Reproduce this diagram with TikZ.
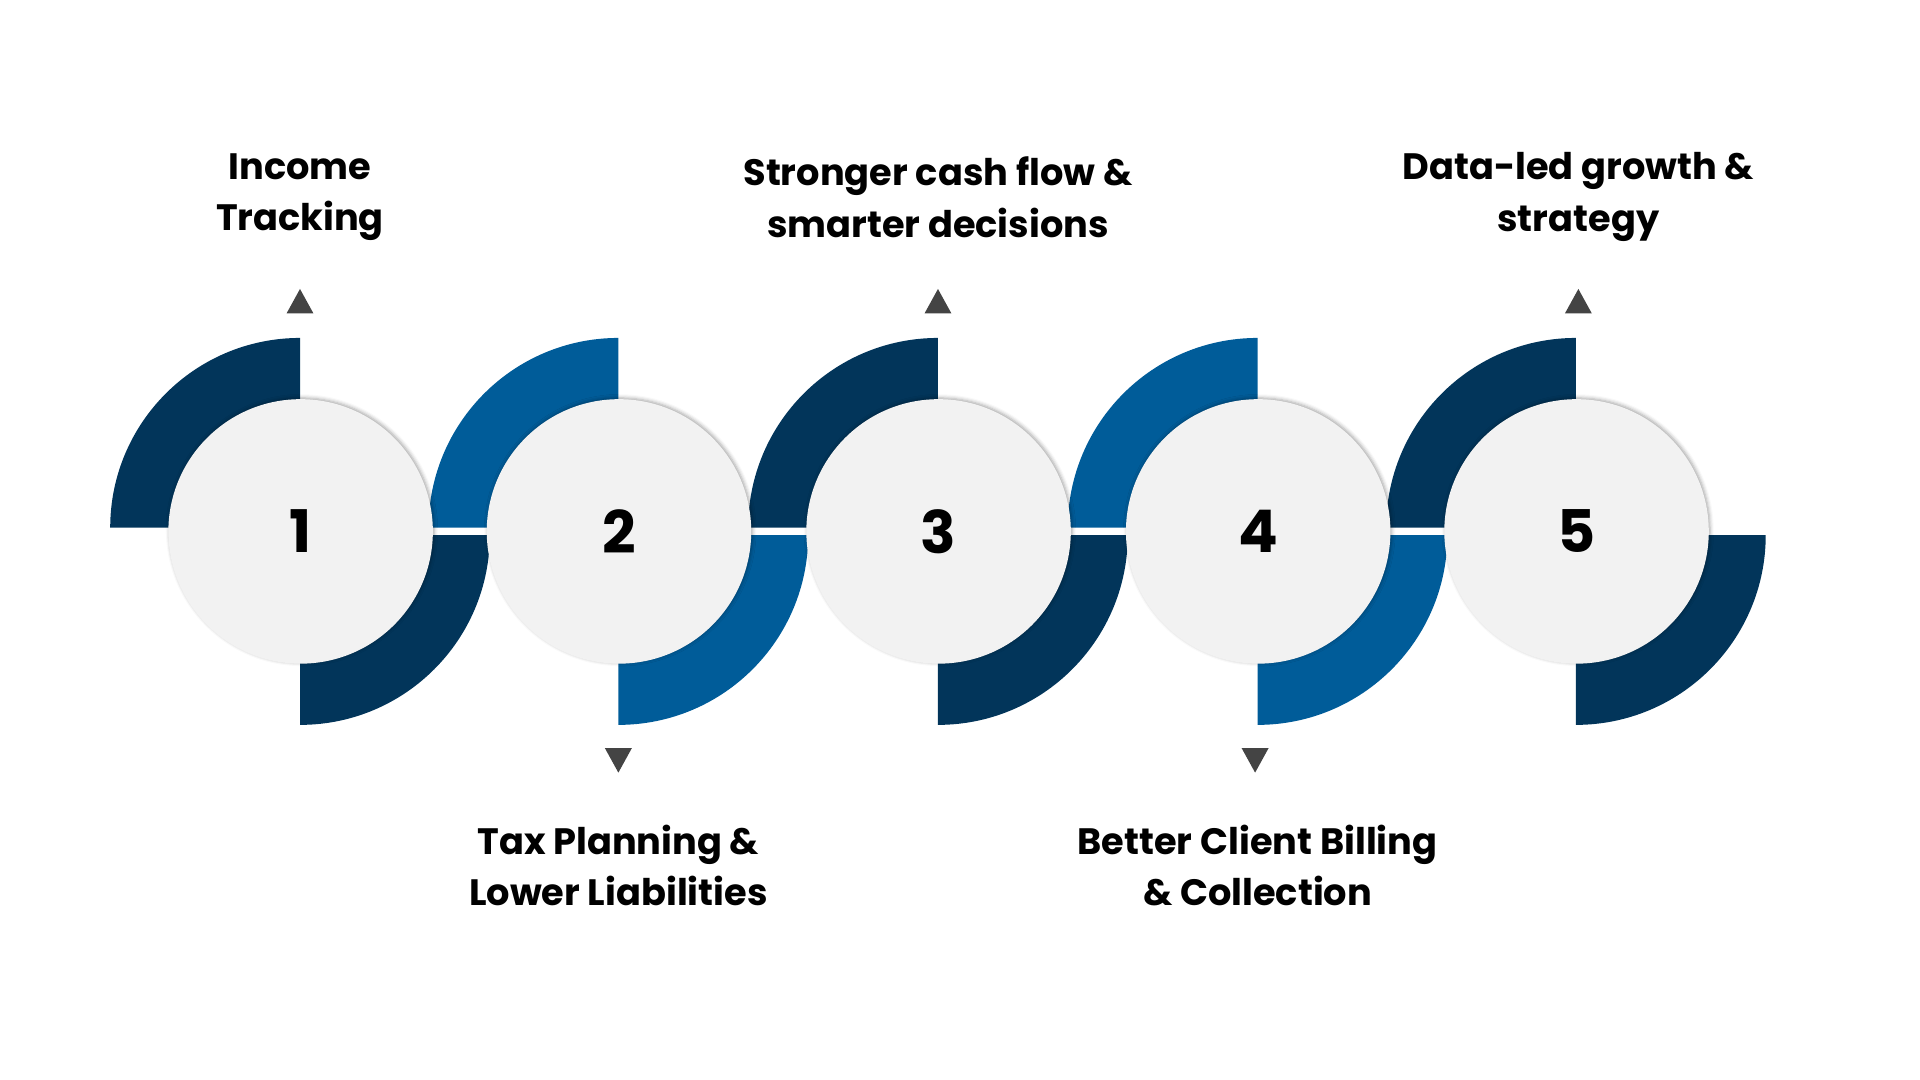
\documentclass[tikz,border=0pt]{standalone}
\usepackage{fontspec}
\setmainfont{Poppins}
\usetikzlibrary{shadows.blur}
\definecolor{dk}{HTML}{02355A}
\definecolor{bl}{HTML}{005C99}
\definecolor{cg}{HTML}{F2F2F2}
\definecolor{tri}{HTML}{444444}
\tikzset{
  num/.style={circle,fill=cg,minimum size=216pt,inner sep=0pt,font=\fontsize{48}{55}\selectfont\bfseries,blur shadow={shadow xshift=1pt,shadow yshift=1pt,shadow blur radius=3pt,shadow opacity=35}},
  lbl/.style={align=center,font=\fontsize{30}{42}\selectfont\bfseries,text=black},
  tri/.style={fill=tri}
}
\begin{document}
\begin{tikzpicture}[x=1pt,y=1pt]
\useasboundingbox (0,0) rectangle (1568,882);
\foreach \i/\cx/\col in {1/245/dk,2/505/bl,3/766/dk,4/1027/bl,5/1287/dk}{
  \fill[\col] (\cx,606) arc (90:180:155) -- (\cx-100,451) arc (180:90:100) -- cycle;
  \fill[\col] (\cx,290) arc (270:360:155) -- (\cx+100,445) arc (360:270:100) -- cycle;
}
\foreach \i/\cx in {1/245,2/505,3/766,4/1027,5/1287}{
  \node[num] (c\i) at (\cx+0.5,448) {\i};
}
\node[lbl] (t1) at (245,721) {Income\\Tracking};
\node[lbl] (t3) at (766,721) {Stronger cash flow \&\\smarter decisions};
\node[lbl] (t5) at (1289,721) {Data-led growth \&\\strategy};
\node[lbl] (t2) at (505,175) {Tax Planning \&\\Lower Liabilities};
\node[lbl] (t4) at (1027,175) {Better Client Billing\\\& Collection};
\foreach \cx in {245,766,1289}{\fill[tri] (\cx-11,626) -- (\cx+11,626) -- (\cx,646) -- cycle;}
\foreach \cx in {505,1025}{\fill[tri] (\cx-11,271) -- (\cx+11,271) -- (\cx,251) -- cycle;}
\end{tikzpicture}
\end{document}
